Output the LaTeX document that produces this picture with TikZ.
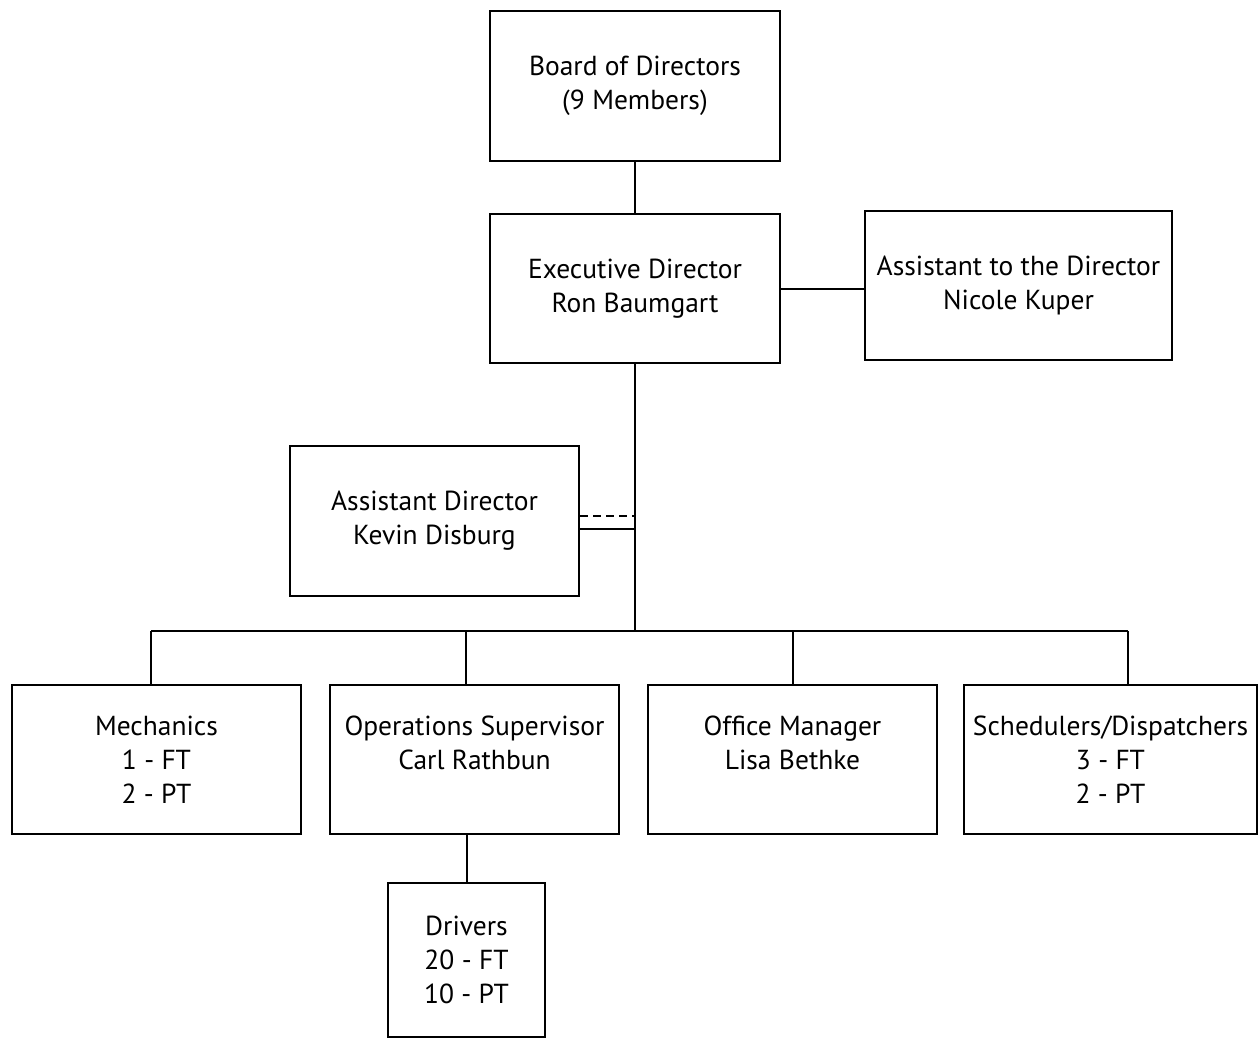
\documentclass[tikz,border=0pt]{standalone}
\usepackage{fontspec}
\setmainfont{PT Sans}
\begin{document}
\begin{tikzpicture}[x=1pt,y=-1pt,line width=2pt,
  unit/.style={draw,align=center,inner sep=0pt,font=\fontsize{27.5}{34}\selectfont},
  link/.style={line width=2pt}]
\useasboundingbox (0,0) rectangle (1259,1038);
% top
\node[unit,minimum width=290,minimum height=150] (board) at (635,86) {Board of Directors\\(9 Members)};
\node[unit,minimum width=290,minimum height=149] (exec) at (635,288.5) {Executive Director\\Ron Baumgart};
\node[unit,minimum width=307,minimum height=149] (asst) at (1018.5,285.5) {Assistant to the Director\\Nicole Kuper};
\node[unit,minimum width=289,minimum height=150] (adir) at (434.5,521) {Assistant Director\\Kevin Disburg};
% staff
\node[unit,minimum width=289,minimum height=149] (mech) at (156.5,759.5) {Mechanics\\1 - FT\\2 - PT};
\node[unit,minimum width=289,minimum height=149] (ops) at (474.5,759.5) {Operations Supervisor\\Carl Rathbun\\~};
\node[unit,minimum width=289,minimum height=149] (office) at (792.5,759.5) {Office Manager\\Lisa Bethke\\~};
\node[unit,minimum width=293,minimum height=149] (sched) at (1110.5,759.5) {Schedulers/Dispatchers\\3 - FT\\2 - PT};
\node[unit,minimum width=157,minimum height=154] (drivers) at (466.5,960) {Drivers\\20 - FT\\10 - PT};
% links
\coordinate (bus) at (635,631);
\draw[link] (board) -- (exec);
\draw[link] (exec.east) -- (exec.east -| asst.west);
\draw[link] (exec.south) -- (bus);
\draw[link] (adir.east |- 0,529) -- (635,529);
\draw[link,dashed,dash pattern=on 8pt off 5pt] (adir.east |- 0,516) -- (635,516);
\draw[link] (151,631) -- (1128,631);
\draw[link] (151,631) -- (mech.north -| 151,0);
\draw[link] (466,631) -- (ops.north -| 466,0);
\draw[link] (793,631) -- (office.north -| 793,0);
\draw[link] (1128,631) -- (sched.north -| 1128,0);
\draw[link] (ops.south -| drivers.north) -- (drivers.north);
\end{tikzpicture}
\end{document}
